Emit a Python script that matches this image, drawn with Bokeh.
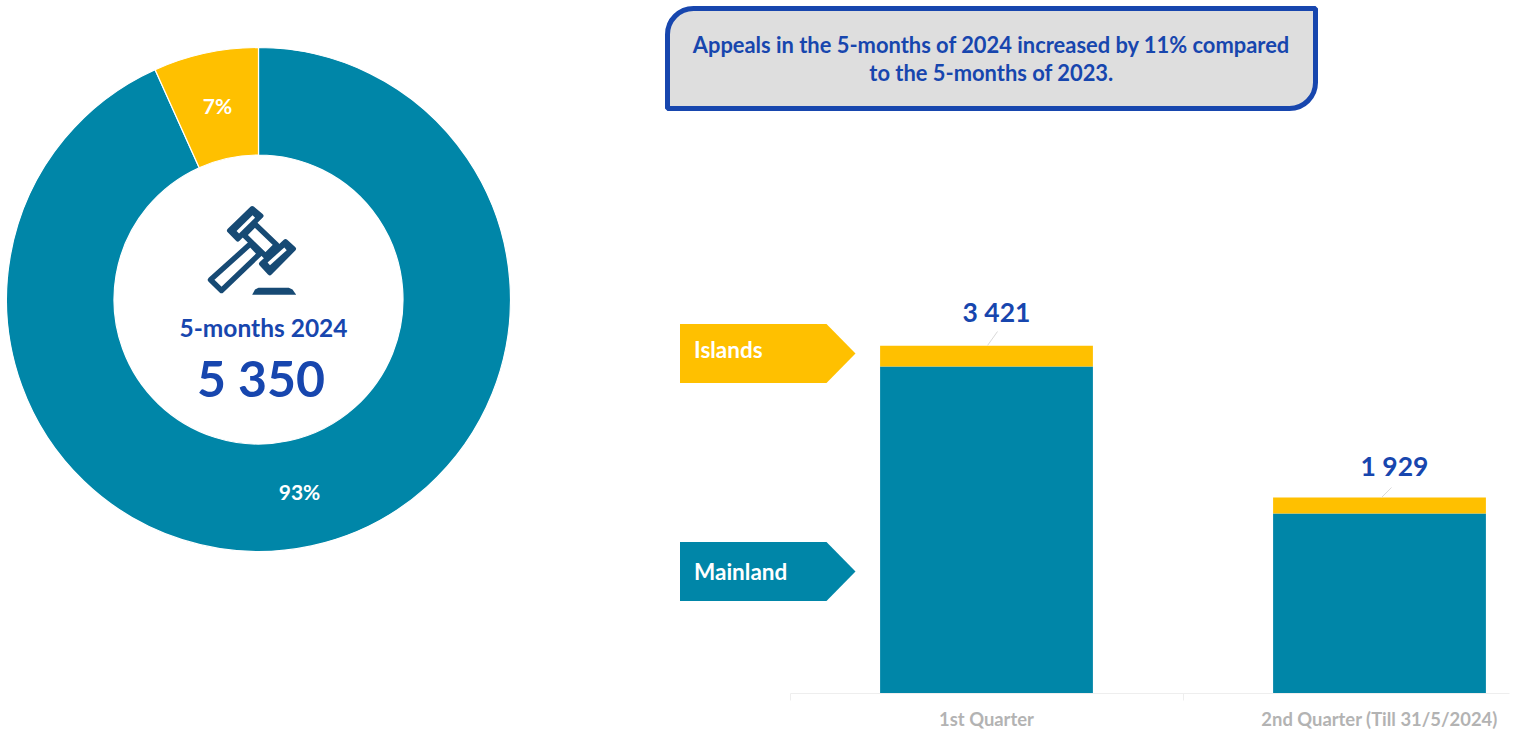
from math import pi
from bokeh.plotting import figure
from bokeh.models import Range1d, LinearAxis, FixedTicker, BoxAnnotation
from bokeh.core.properties import value
from bokeh.embed import file_html
from bokeh.resources import INLINE

# ---- data ----
quarters = ["1st Quarter", "2nd Quarter (Till 31/5/2024)"]
mainland = [3218, 1772]
islands = [203, 157]
totals = [3421, 1929]
total_labels = ["3 421", "1 929"]
total_label = "5 350"
period_label = "5-months 2024"
share_labels = ["93%", "7%"]
headline = ["Appeals in the 5-months of 2024 increased by 11% compared",
            "to the 5-months of 2023."]
series_names = ["Islands", "Mainland"]

TEAL, GOLD, BLUE, NAVY = "#0086a8", "#ffc000", "#1746ae", "#174a74"
FONT = value("Lato")

W, H, FRAME_H = 1513, 736, 693
p = figure(width=W, height=H, frame_width=W, frame_height=FRAME_H,
           x_range=Range1d(0, W), y_range=Range1d(FRAME_H, 0),
           x_axis_type=None, y_axis_type=None,
           output_backend="svg", toolbar_location=None,
           min_border=0, outline_line_color=None, margin=(0, 0, 0, 0))
p.grid.visible = False
p.background_fill_color = "white"
p.border_fill_color = "white"

# scales of the bar chart inside the page
slot_px = 393.0
x0_px = 986.0
p.extra_x_ranges["cat"] = Range1d(1 - x0_px / slot_px, 1 + (W - x0_px) / slot_px)
p.extra_y_ranges["val"] = Range1d(0, FRAME_H / 0.10165)

axis = LinearAxis(x_range_name="cat",
                  ticker=FixedTicker(ticks=[1, 2], minor_ticks=[0.5, 1.5]),
                  major_label_overrides={1: quarters[0], 2: quarters[1]},
                  bounds=(0.5, 2.33),
                  axis_line_color="#eeeeee", axis_line_width=1,
                  major_tick_line_color=None,
                  minor_tick_out=7, minor_tick_in=0,
                  minor_tick_line_color="#eeeeee",
                  major_label_standoff=7,
                  major_label_text_font="Lato",
                  major_label_text_font_style="bold",
                  major_label_text_font_size="18.4px",
                  major_label_text_color="#b3b3b3")
p.add_layout(axis, "below")

# ---- stacked bars ----
xs = [1, 2]
tops_m = mainland
tops_i = [m + i for m, i in zip(mainland, islands)]
p.vbar(x=xs, width=0.5415, bottom=0, top=tops_m, fill_color=TEAL, line_color=None,
       x_range_name="cat", y_range_name="val")
p.vbar(x=xs, width=0.5415, bottom=tops_m, top=tops_i, fill_color=GOLD, line_color=None,
       x_range_name="cat", y_range_name="val")
p.text(x=xs, y=totals, text=total_labels, x_range_name="cat", y_range_name="val",
       x_offset=[10, 15], y_offset=[-34, -31], text_align="center", text_baseline="middle",
       text_font=FONT, text_font_style="bold", text_font_size="26.5px", text_color=BLUE)
# leader lines
p.segment(x0=[987, 1381], y0=[345, 497], x1=[997, 1391], y1=[331, 487],
          line_color="#d9d9d9", line_width=1)

# ---- doughnut ----
cx, cy, r_out, r_in = 258, 299, 252, 144.5
grand_m, grand_i = sum(mainland), sum(islands)
grand = grand_m + grand_i
split = 2 * pi * grand_i / grand
p.annular_wedge(x=[cx, cx], y=[cy, cy], inner_radius=r_in, outer_radius=r_out,
                start_angle=[pi / 2 + split, pi / 2], end_angle=[pi / 2 + 2 * pi, pi / 2 + split],
                fill_color=[TEAL, GOLD], line_color="white", line_width=1.2)
p.text(x=[299, 217], y=[491, 105], text=share_labels, text_align="center",
       text_baseline="middle", text_font=FONT, text_font_style="bold",
       text_font_size="21px", text_color="white")
p.text(x=[263], y=[327], text=[period_label], text_align="center", text_baseline="middle",
       text_font=FONT, text_font_style="bold", text_font_size="24.5px", text_color=BLUE)
p.text(x=[260.5], y=[377], text=[total_label], text_align="center", text_baseline="middle",
       text_font=FONT, text_font_style="bold", text_font_size="50px", text_color=BLUE)

# ---- gavel icon ----
p.patches(xs=[[250, 259.3, 221, 210], [243.5, 254.3, 276, 265]],
          ys=[[243.3, 253.3, 290, 279.3], [234.5, 223.5, 244.3, 255.5]],
          fill_color="white", line_color=NAVY, line_width=5.4, line_join="round")
p.patches(xs=[[251.7, 260.5, 237.3, 229], [285, 293, 269.3, 261]],
          ys=[[208, 215.3, 238.5, 230], [241, 248.3, 272.3, 263.3]],
          fill_color=NAVY, line_color=NAVY, line_width=5, line_join="round")
p.segment(x0=[237.3, 268.3], y0=[231.7, 263.3], x1=[253.3, 285], y1=[216, 248.3],
          line_color="white", line_width=3.6)
p.patch(x=[251.7, 295.7, 292, 288.3, 258, 254.5], y=[294.3, 294.3, 289, 287.3, 287.3, 289],
        fill_color=NAVY, line_color=None)

# ---- callout ----
p.add_layout(BoxAnnotation(left=667, right=1315, top=8, bottom=108,
                           fill_color="#dedede", fill_alpha=1,
                           line_color=BLUE, line_width=5, line_alpha=1,
                           border_radius=(26, 0, 26, 0), level="underlay"))
p.text(x=[991, 991], y=[43.5, 71.5], text=headline, text_align="center", text_baseline="middle",
       text_font=FONT, text_font_style="bold", text_font_size="21.9px", text_color=BLUE)

# ---- arrow labels ----
p.patches(xs=[[679.5, 826, 855, 826, 679.5], [679.5, 826, 855, 826, 679.5]],
          ys=[[323.5, 323.5, 353, 382.5, 382.5], [541.5, 541.5, 571, 600.5, 600.5]],
          fill_color=[GOLD, TEAL], line_color=None)
p.text(x=[693.5, 693.5], y=[348.5, 571], text=series_names, text_align="left", text_baseline="middle",
       text_font=FONT, text_font_style="bold", text_font_size="22.5px", text_color="white")

open("out.html", "w").write(file_html(p, INLINE))
